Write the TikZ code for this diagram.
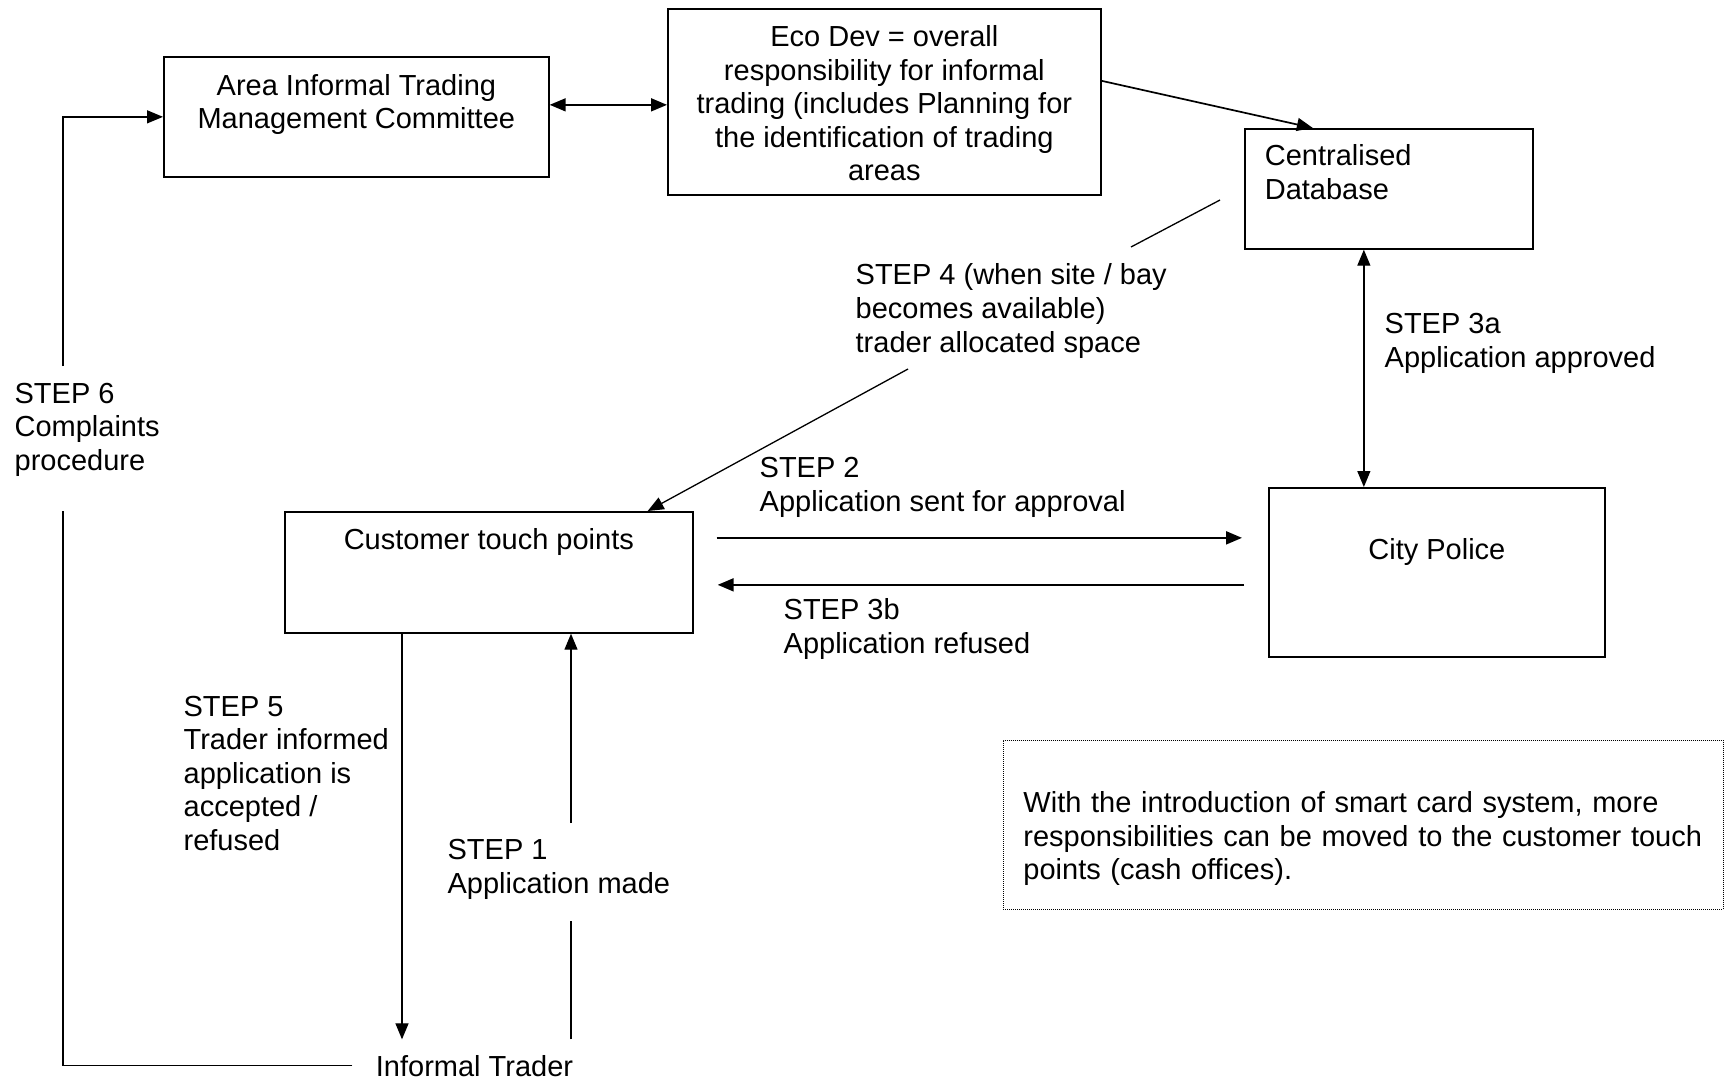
\documentclass[tikz,border=0pt]{standalone}
\usepackage{fontspec}
\setmainfont{Liberation Sans}
\usetikzlibrary{arrows.meta}
\tikzset{
  txt/.style={font=\fontsize{29}{33.6}\selectfont, inner sep=0pt},
  box/.style={txt, draw, line width=1.7pt, align=center, anchor=north west},
  steplabel/.style={txt, align=left, anchor=base west},
}
\begin{document}
\begin{tikzpicture}[x=1pt,y=-1pt,line width=1.3pt,>={Triangle[length=16pt,width=13pt]}]
\useasboundingbox (0,0) rectangle (1724,1081);

% Boxes
\node[box, minimum width=385pt, text height=72pt, text depth=48pt] (area) at (163,56) {Area Informal Trading\\Management Committee};
\node[box, minimum width=433pt, text height=172pt, text depth=14pt] (eco) at (667,8) {Eco Dev = overall\\responsibility for informal\\trading (includes Planning for\\the identification of trading\\areas};
\node[box, align=left, text width=248pt, inner xsep=20pt, text height=37pt, text depth=83pt] (db) at (1244,128) {Centralised\\Database};
\node[box, minimum width=336pt, text height=72pt, text depth=97pt] (police) at (1268,487) {City Police};
\node[box, minimum width=408pt, text height=38pt, text depth=83pt] (touch) at (284,511) {Customer touch points};
\node[txt, anchor=base, inner xsep=23pt, inner ysep=15pt] (trader) at (474.5,1076) {Informal Trader};

% Note
\node[box, line width=0.9pt, dash pattern=on 1pt off 1pt, align=left, text width=680pt, inner xsep=20pt, text height=72pt, text depth=97pt] (note) at (1003,740) {With the introduction of smart card system, more\\responsibilities can be moved to the customer touch\\points (cash offices).};

% Step labels (placed at last baseline)
\node[steplabel] (s6) at (14,470.5) {STEP 6\\Complaints\\procedure};
\node[steplabel] (s4) at (855,352) {STEP 4 (when site / bay\\becomes available)\\trader allocated space};
\node[steplabel] (s3a) at (1384,367) {STEP 3a\\Application approved};
\node[steplabel] (s2) at (759,511) {STEP 2\\Application sent for approval};
\node[steplabel] (s3b) at (783,653) {STEP 3b\\Application refused};
\node[steplabel] (s5) at (183,850.5) {STEP 5\\Trader informed\\application is\\accepted /\\refused};
\node[steplabel] (s1) at (447,893) {STEP 1\\Application made};

% Top connectors
\draw[<->, line width=1.7pt] ([yshift=12pt]area.east) -- ([yshift=-3pt]eco.west);
\draw[->, line width=1.7pt] ([yshift=21pt]eco.east) -- ([xshift=-76pt]db.north);
\draw[<->] ([xshift=-25pt]db.south) -- ([xshift=-25pt]db.south |- police.north);

% Step 2 and 3b
\draw[->, line width=2pt] ([shift={(23pt,34.5pt)}]touch.east) -- ([shift={(-26pt,34.5pt)}]police.west);
\draw[->, line width=2pt] ([shift={(-24pt,-12.5pt)}]police.west) -- ([shift={(24pt,-12.5pt)}]touch.east);

% Step 4
\coordinate (s4a) at (1220,200);
\coordinate (s4b) at (1131,247);
\coordinate (s4c) at (908,369);
\draw (s4a) -- (s4b);
\draw[->] (s4c) -- ([xshift=-46pt]touch.north east);

% Step 5 and 1
\draw[->] ([xshift=118pt]touch.south west) -- ([xshift=118pt]touch.south west |- trader.north);
\coordinate (s1a) at (571,823);
\coordinate (s1b) at (571,921);
\draw (trader.north -| s1b) -- (s1b);
\draw[->] (s1a) -- (s1a |- touch.south);

% Step 6
\coordinate (s6a) at (63,366);
\coordinate (s6b) at (63,511);
\draw (trader.west) -| (s6b);
\draw[->] (s6a) |- (area.west);
\end{tikzpicture}
\end{document}
